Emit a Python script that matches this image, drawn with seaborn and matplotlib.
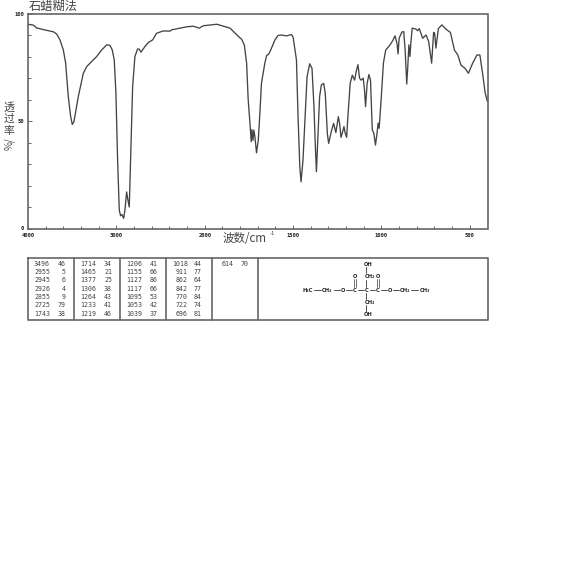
import numpy as np
import pandas as pd
import matplotlib
matplotlib.use("Agg")
import matplotlib.pyplot as plt
from matplotlib.lines import Line2D
import seaborn as sns

# spectrum
wavenumber = [4000, 3940, 3902, 3827, 3713, 3676, 3638, 3600, 3574, 3544, 3517, 3499, 3480, 3431, 3374, 3336,
              3223, 3167, 3110, 3073, 3046, 3024, 3005, 2986, 2967, 2952, 2937, 2918, 2903, 2884, 2869, 2854,
              2839, 2816, 2790, 2760, 2741, 2722, 2677, 2639, 2590, 2545, 2469, 2394, 2375, 2205, 2130, 2062,
              2017, 1932, 1857, 1809, 1791, 1776, 1763, 1754, 1744, 1737, 1733, 1727, 1722, 1716, 1707, 1697,
              1688, 1679, 1660, 1650, 1637, 1622, 1603, 1585, 1566, 1538, 1509, 1500, 1481, 1472, 1462, 1455,
              1444, 1434, 1421, 1406, 1393, 1382, 1374, 1368, 1359, 1350, 1340, 1327, 1318, 1306, 1299, 1284,
              1271, 1258, 1244, 1237, 1229, 1222, 1212, 1207, 1197, 1190, 1177, 1165, 1152, 1143, 1133, 1124,
              1115, 1103, 1096, 1090, 1081, 1071, 1062, 1052, 1043, 1034, 1025, 1019, 1013, 1002, 989, 976,
              955, 936, 923, 912, 906, 900, 885, 874, 866, 857, 851, 845, 839, 834, 826, 804, 795, 786, 767,
              748, 733, 716, 705, 699, 692, 678, 658, 635, 610, 587, 568, 550, 527, 508, 484, 460, 443, 428,
              413, 400]
transmittance = [95.0, 94.6, 93.3, 92.5, 91.5, 90.5, 87.7, 83, 76.9, 61.3, 52, 48.4, 49.7, 61.3, 72.2, 75.3,
                 80, 83, 85.4, 85.2, 83, 78.4, 62.9, 31.8, 8.5, 5.9, 6.5, 4.7, 8.5, 17, 13.2, 10,
                 31.8, 66, 80, 83.5, 83.4, 82, 84.6, 86.5, 87.7, 90.8, 91.9, 91.8, 92.4, 93.8, 94.1, 93.2,
                 94.3, 95.0, 93.2, 89.3, 88, 85.4, 76.9, 59.8, 48.9, 40.4, 46, 41, 45.8, 42.7, 35.2, 41,
                 53.6, 67.5, 76.9, 80.4, 81.2, 83.9, 87.7, 89.8, 90, 89.6, 90.2, 89, 78.4, 52, 28.7, 21.7,
                 31.8, 49, 70.6, 76.6, 74.5, 56.7, 38, 26.4, 44, 61.3, 66.8, 67.5, 62.9, 44, 39.6, 45,
                 48.9, 44.6, 52, 49, 42.4, 44.3, 47.4, 45, 42.4, 52, 67.5, 71.3, 69, 73, 76.2, 69.9,
                 69, 69.9, 64.4, 56.7, 67.5, 71.6, 69, 45.8, 44.3, 38.8, 44.3, 49, 46.6, 59.8, 76.9, 83,
                 85, 87.4, 89.6, 86, 81.2, 88.5, 91.3, 91.6, 83, 67.2, 75.3, 85.4, 80, 86, 93.2, 92.7, 92, 93, 88.5,
                 90, 87, 76.9, 91.2, 90.8, 83.9, 93, 94.7, 92.7, 91.2, 83, 80.7, 76, 74.5, 72.2, 76.9, 80.7, 80.7, 72.2,
                 62.9, 59]

x_labels = [4000, 3000, 2000, 1500, 1000, 500]
y_labels = [0, 50, 100]

# peak table, one list per column block
peak_cols = [
    ["3496", "2955", "2945", "2926", "2855", "2725", "1743"],
    ["1714", "1465", "1377", "1306", "1264", "1233", "1219"],
    ["1206", "1155", "1127", "1117", "1095", "1053", "1039"],
    ["1018", "911", "862", "842", "770", "722", "696"],
    ["614"],
]
peak_vals = [
    ["46", "5", "6", "4", "9", "79", "38"],
    ["34", "21", "25", "38", "43", "41", "46"],
    ["41", "66", "86", "66", "53", "42", "37"],
    ["44", "77", "64", "77", "84", "74", "81"],
    ["70"],
]

W, H = 570, 570
INK = "#666666"
sns.set_style("white")
plt.rcParams["font.family"] = ["Noto Sans CJK SC", "DejaVu Sans"]


def forward(w):
    w = np.asarray(w, dtype=float)
    return np.where(w > 2000, 2000 + (w - 2000) / 2, w)


def inverse(v):
    v = np.asarray(v, dtype=float)
    return np.where(v > 2000, 2000 + (v - 2000) * 2, v)


def px(x, y):
    return x / W, 1 - y / H


def ptext(x, y, s, size, **kw):
    kw.setdefault("color", "#444444")
    kw.setdefault("ha", "center")
    kw.setdefault("va", "center")
    return fig.text(*px(x, y), s, fontsize=size, **kw)


def pline(xs, ys, color=INK, lw=0.9):
    pts = [px(a, b) for a, b in zip(xs, ys)]
    fig.add_artist(Line2D([p[0] for p in pts], [p[1] for p in pts], color=color, lw=lw))


fig = plt.figure(figsize=(W / 100, H / 100), dpi=100)
ax = fig.add_axes([28 / W, 1 - 228.5 / H, 459.5 / W, 215 / H])

df = pd.DataFrame({"wavenumber": wavenumber, "transmittance": transmittance})
sns.lineplot(data=df, x="wavenumber", y="transmittance", sort=False, estimator=None,
             color="#444444", lw=0.95, ax=ax)

ax.set_xscale("function", functions=(forward, inverse))
ax.set_xlim(4000, 400)
ax.set_ylim(0, 100)
ax.set_xticks(x_labels)
ax.set_xticks(list(range(3800, 2000, -200)) + list(range(1900, 400, -100)), minor=True)
ax.set_yticks(y_labels)
ax.set_yticks([v for v in range(10, 100, 10) if v != 50], minor=True)
ax.set_xlabel("")
ax.set_ylabel("")
ax.tick_params(axis="both", which="major", labelsize=4, length=3, width=0.7, color=INK,
               labelcolor="#222222", pad=3, direction="in", bottom=True, left=True)
ax.tick_params(axis="both", which="minor", length=2, width=0.7, color=INK, direction="in",
               bottom=True, left=True)
for lab in ax.get_xticklabels() + ax.get_yticklabels():
    lab.set_fontfamily(["DejaVu Sans Mono"])
    lab.set_fontweight("bold")
for sp in ax.spines.values():
    sp.set_visible(True)
    sp.set_color(INK)
    sp.set_linewidth(1.2)

# titles and stacked axis label
ptext(29, 6, "石蜡糊法", 8.8, ha="left")
ptext(223, 238, "波数/cm", 8.3, ha="left")
ptext(270, 234, "-1", 4.2, ha="left")
for yy, ch in zip([107, 119, 131], "透过率"):
    ptext(9, yy, ch, 7.8)
ptext(9, 144, "%/", 7, rotation=90)

# peak table frame
pline([28, 487.5, 487.5, 28, 28], [257.5, 257.5, 319.5, 319.5, 257.5], lw=1.2)
for vx in [74, 120, 166, 212, 258]:
    pline([vx, vx], [257.5, 319.5], lw=1.2)

code_right = [50, 96, 142, 188, 234]
val_right = [66, 112, 158, 202, 249]
for col, vals, cx, vx in zip(peak_cols, peak_vals, code_right, val_right):
    for i, (c, v) in enumerate(zip(col, vals)):
        yy = 263.7 + i * 8.3
        ptext(cx, yy, c, 4.8, ha="right", family="DejaVu Sans Mono")
        ptext(vx, yy, v, 4.8, ha="right", family="DejaVu Sans Mono")

# structure drawing
atoms = [(308, 290, "H₃C"), (327, 290, "CH₂"), (343, 290, "O"), (355, 290, "C"), (367, 290, "C"),
         (378, 290, "C"), (390, 290, "O"), (405, 290, "CH₂"), (425, 290, "CH₃"),
         (368, 264, "OH"), (370, 277, "CH₂"), (355, 276, "O"), (378, 276, "O"),
         (370, 302, "CH₂"), (368, 315, "OH")]
for xx, yy, s in atoms:
    ptext(xx, yy, s, 3.8, family=["DejaVu Sans"], color="#222222", fontweight="bold")
for x0, x1 in [(314, 321), (334, 340), (346, 352), (358, 364), (370, 375), (381, 387), (393, 399), (411, 418)]:
    pline([x0, x1], [290, 290], color="#333333", lw=0.6)
for y0, y1 in [(267, 273), (280, 287), (293, 299), (305, 312)]:
    pline([365.7, 365.7], [y0, y1], color="#333333", lw=0.6)
for xx in [354.3, 355.7, 377.3, 378.7]:
    pline([xx, xx], [279, 287], color="#333333", lw=0.5)

fig.savefig("out.png", dpi=100)
